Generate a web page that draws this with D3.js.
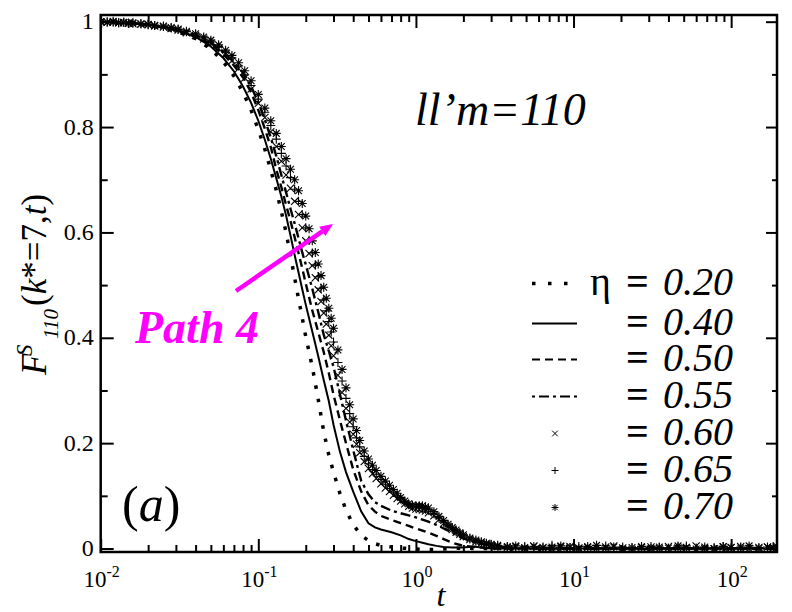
<!DOCTYPE html>
<html>
<head>
<meta charset="utf-8">
<script src="https://cdn.jsdelivr.net/npm/d3@7"></script>
<style>
  body { margin: 0; background: #fff; }
  svg text, svg tspan { font-family: "Liberation Serif", Tinos, "Times New Roman", Times, "DejaVu Serif", serif !important; }
</style>
</head>
<body>
<svg id="chart" width="792" height="612"></svg>
<script>
// ---- data ----
// time grid for the four line series
var tLine = [0.01, 0.015, 0.02, 0.03, 0.04, 0.05, 0.06, 0.07, 0.08, 0.09,
  0.10, 0.11, 0.12, 0.13, 0.14, 0.15, 0.16, 0.17, 0.18, 0.19, 0.20,
  0.22, 0.24, 0.26, 0.28, 0.30,
  0.33, 0.36, 0.40, 0.45, 0.50, 0.55, 0.60,
  0.70, 0.80, 0.90, 1.0, 1.1, 1.2, 1.35, 1.5, 1.7,
  2.0, 2.3, 2.6, 3.0,
  4, 6, 10, 20, 50, 100, 195];

var eta020 = [1.000, 0.997, 0.993, 0.982, 0.968, 0.948, 0.924, 0.897, 0.866, 0.832,
  0.795, 0.758, 0.718, 0.680, 0.640, 0.600, 0.556, 0.514, 0.474, 0.438, 0.402,
  0.345, 0.283, 0.222, 0.178, 0.145,
  0.104, 0.073, 0.045, 0.025, 0.015, 0.009, 0.006,
  0.003, 0.001, 0.000, -0.001, -0.002, -0.002, -0.002, -0.001, 0.000,
  0.001, 0.000, 0.000, 0.000,
  0, 0, 0, 0, 0, 0, 0];

var eta040 = [1.000, 0.997, 0.994, 0.984, 0.971, 0.953, 0.931, 0.906, 0.877, 0.846,
  0.812, 0.776, 0.740, 0.703, 0.668, 0.632, 0.594, 0.557, 0.524, 0.492, 0.463,
  0.412, 0.365, 0.320, 0.280, 0.235,
  0.183, 0.145, 0.108, 0.070, 0.048, 0.040, 0.036,
  0.031, 0.025, 0.018, 0.014, 0.011, 0.008, 0.005, 0.003, 0.002,
  0.002, 0.004, 0.002, 0.000,
  0, 0, 0, 0, 0, 0, 0];

var eta050 = [1.000, 0.997, 0.994, 0.985, 0.973, 0.957, 0.938, 0.917, 0.894, 0.866,
  0.832, 0.797, 0.762, 0.720, 0.686, 0.652, 0.622, 0.591, 0.561, 0.532, 0.503,
  0.452, 0.411, 0.373, 0.333, 0.292,
  0.243, 0.200, 0.150, 0.108, 0.082, 0.070, 0.062,
  0.054, 0.048, 0.043, 0.038, 0.034, 0.030, 0.024, 0.018, 0.011,
  0.005, 0.003, 0.002, 0.000,
  0, 0, 0, 0, 0, 0, 0];

var eta055 = [1.000, 0.998, 0.995, 0.986, 0.975, 0.960, 0.943, 0.923, 0.903, 0.877,
  0.847, 0.814, 0.780, 0.745, 0.709, 0.676, 0.645, 0.617, 0.589, 0.562, 0.539,
  0.493, 0.449, 0.406, 0.375, 0.345,
  0.292, 0.243, 0.187, 0.128, 0.103, 0.088, 0.081,
  0.072, 0.067, 0.063, 0.059, 0.055, 0.051, 0.045, 0.038, 0.030,
  0.019, 0.013, 0.009, 0.005,
  0.002, 0, 0, 0, 0, 0, 0];

// time grid for the three symbol series
var tMark = [0.010, 0.011, 0.012, 0.013, 0.014, 0.015, 0.016, 0.018, 0.020, 0.022,
  0.025, 0.028, 0.031, 0.035, 0.040, 0.045, 0.050, 0.056, 0.062, 0.068,
  0.075, 0.082, 0.090, 0.100,
  0.11, 0.12, 0.13, 0.14, 0.15, 0.16, 0.17, 0.18, 0.19, 0.20,
  0.21, 0.22, 0.23, 0.24, 0.25, 0.26, 0.27, 0.28, 0.29, 0.30,
  0.32, 0.34, 0.36, 0.38, 0.40, 0.42, 0.44, 0.47, 0.50, 0.53, 0.56,
  0.60, 0.64, 0.68, 0.72, 0.76, 0.80, 0.85, 0.90, 0.95, 1.0,
  1.05, 1.1, 1.15, 1.2, 1.3, 1.4, 1.5, 1.6, 1.7, 1.8, 1.9, 2.0,
  2.2, 2.4, 2.6, 2.8, 3.0,
  3.3, 3.8, 4.3, 4.9, 5.6, 6.4, 7.3, 8.3, 9.5, 10.8,
  12.3, 14, 16, 18, 20.5, 23.5, 27, 31, 35, 40,
  46, 52, 60, 68, 78, 89, 100, 115, 130, 150,
  170, 185, 195];

var eta060 = [1.000, 0.999, 0.999, 0.998, 0.998, 0.997, 0.996, 0.995, 0.994, 0.992,
  0.990, 0.987, 0.984, 0.979, 0.974, 0.967, 0.959, 0.949, 0.938, 0.926,
  0.911, 0.893, 0.872, 0.845,
  0.818, 0.791, 0.763, 0.735, 0.709, 0.684, 0.659, 0.634, 0.609, 0.584,
  0.560, 0.537, 0.514, 0.491, 0.469, 0.447, 0.426, 0.405, 0.385, 0.366,
  0.329, 0.296, 0.266, 0.240, 0.217, 0.198, 0.182, 0.165, 0.152, 0.142, 0.133,
  0.123, 0.115, 0.108, 0.101, 0.095, 0.090, 0.085, 0.080, 0.077, 0.075,
  0.074, 0.073, 0.071, 0.068, 0.062, 0.055, 0.048, 0.042, 0.036, 0.031, 0.027, 0.023,
  0.017, 0.013, 0.010, 0.008, 0.006,
  0.004, 0.002, 0.003, 0.000, 0.005, 0.002, -0.001, 0.003, 0.004, 0.001,
  0.002, 0.000, 0.003, 0.005, 0.001, -0.002, 0.002, 0.003, 0.000, 0.004,
  0.001, 0.002, 0.005, 0.000, -0.001, 0.003, 0.002, 0.004, 0.000, 0.002,
  0.003, 0.001, 0.000];

var eta065 = [1.000, 1.000, 0.999, 0.998, 0.999, 0.997, 0.997, 0.996, 0.994, 0.993,
  0.991, 0.988, 0.985, 0.981, 0.975, 0.969, 0.962, 0.953, 0.942, 0.931,
  0.916, 0.899, 0.879, 0.853,
  0.828, 0.803, 0.777, 0.750, 0.726, 0.704, 0.682, 0.659, 0.634, 0.609,
  0.585, 0.561, 0.538, 0.516, 0.494, 0.472, 0.451, 0.431, 0.411, 0.392,
  0.353, 0.318, 0.285, 0.256, 0.231, 0.210, 0.193, 0.175, 0.161, 0.150, 0.141,
  0.131, 0.122, 0.114, 0.107, 0.100, 0.094, 0.088, 0.083, 0.080, 0.079,
  0.079, 0.078, 0.076, 0.073, 0.066, 0.058, 0.050, 0.043, 0.037, 0.032, 0.028, 0.024,
  0.018, 0.014, 0.011, 0.009, 0.007,
  0.005, 0.003, 0.001, 0.004, 0.000, 0.003, 0.006, 0.001, 0.002, 0.004,
  -0.001, 0.002, 0.005, 0.000, 0.003, 0.001, -0.002, 0.004, 0.002, 0.000,
  0.003, 0.005, 0.001, -0.001, 0.002, 0.004, 0.000, 0.003, 0.001, 0.002,
  -0.001, 0.004, 0.001];

var eta070 = [1.000, 0.999, 1.001, 0.998, 0.999, 0.997, 0.998, 0.996, 0.995, 0.993,
  0.992, 0.989, 0.986, 0.982, 0.977, 0.971, 0.965, 0.956, 0.946, 0.936,
  0.922, 0.907, 0.888, 0.862,
  0.836, 0.812, 0.788, 0.763, 0.740, 0.720, 0.700, 0.679, 0.655, 0.631,
  0.607, 0.584, 0.562, 0.540, 0.518, 0.496, 0.475, 0.456, 0.437, 0.418,
  0.377, 0.340, 0.305, 0.273, 0.246, 0.224, 0.205, 0.185, 0.170, 0.158, 0.148,
  0.137, 0.128, 0.120, 0.112, 0.105, 0.097, 0.090, 0.085, 0.082, 0.081,
  0.081, 0.081, 0.079, 0.077, 0.070, 0.061, 0.053, 0.046, 0.040, 0.035, 0.030, 0.026,
  0.020, 0.016, 0.013, 0.010, 0.008,
  0.006, 0.004, 0.005, 0.002, 0.004, 0.001, 0.003, 0.005, 0.002, 0.000,
  0.004, 0.006, 0.001, 0.003, -0.001, 0.002, 0.004, 0.000, 0.003, 0.001,
  0.005, 0.002, -0.001, 0.003, 0.000, 0.004, 0.002, 0.001, 0.005, 0.000,
  0.003, 0.002, 0.004];

var legendLabels = ["0.20", "0.40", "0.50", "0.55", "0.60", "0.65", "0.70"];
var yTicks = [0, 0.2, 0.4, 0.6, 0.8, 1];
var yMinor = [0.1, 0.3, 0.5, 0.7, 0.9];
var xTicks = [0.01, 0.1, 1, 10, 100];
var xTickExp = ["-2", "-1", "0", "1", "2"];

// ---- layout ----
var pLeft = 100.7, pRight = 777, pTop = 15, pBottom = 552;

var svg = d3.select("#chart");

var x = d3.scaleLog().domain([0.01, 195.4]).range([pLeft, pRight]);
var y = d3.scaleLinear().domain([-0.0066, 1.0127]).range([pBottom, pTop]);

var xMinor = [];
[-2, -1, 0, 1, 2].forEach(function(e) {
  for (var k = 2; k <= 9; k++) {
    var v = k * Math.pow(10, e);
    if (v < 195.4) xMinor.push(v);
  }
});

svg.append("clipPath").attr("id", "plotclip")
  .append("rect")
  .attr("x", pLeft).attr("y", pTop)
  .attr("width", pRight - pLeft).attr("height", pBottom - pTop);

var plot = svg.append("g").attr("clip-path", "url(#plotclip)");

// line series
var lineGen = d3.line()
  .x(function(d) { return x(d[0]); })
  .y(function(d) { return y(d[1]); });

var lineSeries = [
  {vals: eta020, dash: "3.5,10", width: 3.5},
  {vals: eta040, dash: null, width: 2},
  {vals: eta050, dash: "8,5", width: 2.4},
  {vals: eta055, dash: "3,4,10,4", width: 2.4}
];

lineSeries.forEach(function(s) {
  var pts = tLine.map(function(t, i) { return [t, s.vals[i]]; });
  plot.append("path")
    .attr("d", lineGen(pts))
    .attr("fill", "none")
    .attr("stroke", "#000")
    .attr("stroke-width", s.width)
    .attr("stroke-dasharray", s.dash);
});

// symbol paths
function symX(r) {
  return "M" + (-r) + "," + (-r) + "L" + r + "," + r + "M" + (-r) + "," + r + "L" + r + "," + (-r);
}
function symPlus(r) {
  return "M" + (-r) + ",0L" + r + ",0M0," + (-r) + "L0," + r;
}
function symStar(r) {
  return symPlus(r) + symX(r * 0.75);
}

var markSeries = [
  {vals: eta060, sym: function(r) { return symX(r * 0.8); }},
  {vals: eta065, sym: symPlus},
  {vals: eta070, sym: symStar}
];

markSeries.forEach(function(s) {
  var pts = tMark.map(function(t, i) { return [t, s.vals[i]]; });
  plot.append("g").selectAll("path")
    .data(pts)
    .enter().append("path")
    .attr("transform", function(d) { return "translate(" + x(d[0]) + "," + y(d[1]) + ")"; })
    .attr("d", s.sym(4.5))
    .attr("fill", "none")
    .attr("stroke", "#000")
    .attr("stroke-width", 1.1);
});

// ---- axes (ticks point inward on all four sides) ----
function styleAxis(g) {
  g.select(".domain").remove();
  g.selectAll(".tick line").attr("stroke", "#000").attr("stroke-width", 2);
}

svg.append("g").attr("transform", "translate(0," + pBottom + ")")
  .call(d3.axisBottom(x).tickValues(xTicks).tickSize(-13).tickFormat(""))
  .call(styleAxis);
svg.append("g").attr("transform", "translate(0," + pBottom + ")")
  .call(d3.axisBottom(x).tickValues(xMinor).tickSize(-7).tickFormat(""))
  .call(styleAxis);
svg.append("g").attr("transform", "translate(0," + pTop + ")")
  .call(d3.axisTop(x).tickValues(xTicks).tickSize(-13).tickFormat(""))
  .call(styleAxis);
svg.append("g").attr("transform", "translate(0," + pTop + ")")
  .call(d3.axisTop(x).tickValues(xMinor).tickSize(-7).tickFormat(""))
  .call(styleAxis);

var yAxis = svg.append("g").attr("transform", "translate(" + pLeft + ",0)")
  .call(d3.axisLeft(y).tickValues(yTicks).tickSize(-13).tickPadding(7)
    .tickFormat(function(d) { return String(+d.toFixed(1)); }))
  .call(styleAxis);
yAxis.attr("font-family", null).attr("font-size", 24);
yAxis.selectAll(".tick text").attr("fill", "#000").attr("dy", "0.3em");
svg.append("g").attr("transform", "translate(" + pLeft + ",0)")
  .call(d3.axisLeft(y).tickValues(yMinor).tickSize(-7).tickFormat(""))
  .call(styleAxis);
svg.append("g").attr("transform", "translate(" + pRight + ",0)")
  .call(d3.axisRight(y).tickValues(yTicks).tickSize(-11).tickFormat(""))
  .call(styleAxis);
svg.append("g").attr("transform", "translate(" + pRight + ",0)")
  .call(d3.axisRight(y).tickValues(yMinor).tickSize(-5).tickFormat(""))
  .call(styleAxis);

// frame
svg.append("rect")
  .attr("x", pLeft).attr("y", pTop)
  .attr("width", pRight - pLeft).attr("height", pBottom - pTop)
  .attr("fill", "none").attr("stroke", "#000").attr("stroke-width", 2.5);

// x tick labels 10^n
xTicks.forEach(function(v, i) {
  var t = svg.append("text")
    .attr("x", x(v) + 1).attr("y", 587)
    .attr("text-anchor", "middle")
    .attr("font-size", 23);
  t.append("tspan").text("10");
  t.append("tspan").attr("dy", -10).attr("font-size", 16).text(xTickExp[i]);
});

// axis titles
svg.append("text")
  .attr("x", 441).attr("y", 606)
  .attr("text-anchor", "middle")
  .attr("font-size", 32).attr("font-style", "italic")
  .text("t");

var yl = svg.append("g").attr("transform", "translate(46,375) rotate(-90)");
yl.append("text").attr("x", 0).attr("y", 0)
  .attr("font-size", 35).attr("font-style", "italic").text("F");
yl.append("text").attr("x", 19).attr("y", -14)
  .attr("font-size", 23).attr("font-style", "italic").text("S");
yl.append("text").attr("x", 36).attr("y", 12)
  .attr("font-size", 21).attr("font-style", "italic").text("110");
var ylr = yl.append("text").attr("x", 69).attr("y", 0).attr("font-size", 35);
ylr.append("tspan").text("(");
ylr.append("tspan").attr("font-style", "italic").text("k");
ylr.append("tspan").text("*=7,");
ylr.append("tspan").attr("font-style", "italic").text("t");
ylr.append("tspan").text(")");

// annotations
svg.append("text")
  .attr("x", 415).attr("y", 125)
  .attr("font-size", 46).attr("font-style", "italic")
  .text("ll\u2019m=110");

var pa = svg.append("text").attr("x", 122).attr("y", 521).attr("font-size", 50);
pa.append("tspan").text("(");
pa.append("tspan").attr("font-style", "italic").text("a");
pa.append("tspan").text(")");

svg.append("text")
  .attr("x", 135).attr("y", 343)
  .attr("font-size", 46).attr("font-style", "italic").attr("font-weight", "bold")
  .attr("fill", "#ff00ff")
  .text("Path 4");

// magenta arrow
var a0 = [236, 291], a1 = [333, 224];
var adx = a1[0] - a0[0], ady = a1[1] - a0[1], alen = Math.sqrt(adx * adx + ady * ady);
var ux = adx / alen, uy = ady / alen, hl = 13, hw = 5.5;
var bx = a1[0] - hl * ux, by = a1[1] - hl * uy;
svg.append("line")
  .attr("x1", a0[0]).attr("y1", a0[1]).attr("x2", bx).attr("y2", by)
  .attr("stroke", "#ff00ff").attr("stroke-width", 4.5);
svg.append("path")
  .attr("d", "M" + a1[0] + "," + a1[1] +
    "L" + (bx - hw * uy) + "," + (by + hw * ux) +
    "L" + (bx + hw * uy) + "," + (by - hw * ux) + "Z")
  .attr("fill", "#ff00ff");

// ---- legend ----
var legBase = [295, 335, 371, 408, 445, 482, 519];
var leg = svg.append("g");
legendLabels.forEach(function(lab, i) {
  var yb = legBase[i], ys = yb - 11.5;
  if (i < 4) {
    var s = lineSeries[i];
    leg.append("line")
      .attr("x1", 532).attr("x2", i === 0 ? 569 : 577)
      .attr("y1", ys).attr("y2", ys)
      .attr("stroke", "#000")
      .attr("stroke-width", i === 0 ? 3.5 : 2)
      .attr("stroke-dasharray", i === 0 ? "3.5,12.5" : s.dash);
  } else {
    leg.append("path")
      .attr("transform", "translate(555," + ys + ")")
      .attr("d", markSeries[i - 4].sym(3.5))
      .attr("fill", "none").attr("stroke", "#000").attr("stroke-width", 1);
  }
  if (i === 0) {
    leg.append("text").attr("x", 590).attr("y", yb).attr("font-size", 40).text("\u03b7");
  }
  leg.append("text").attr("x", 626).attr("y", yb)
    .attr("font-size", 40).attr("font-weight", "bold").text("=");
  leg.append("text").attr("x", 663).attr("y", yb)
    .attr("font-size", 40).attr("font-style", "italic").text(lab);
});
</script>
</body>
</html>
